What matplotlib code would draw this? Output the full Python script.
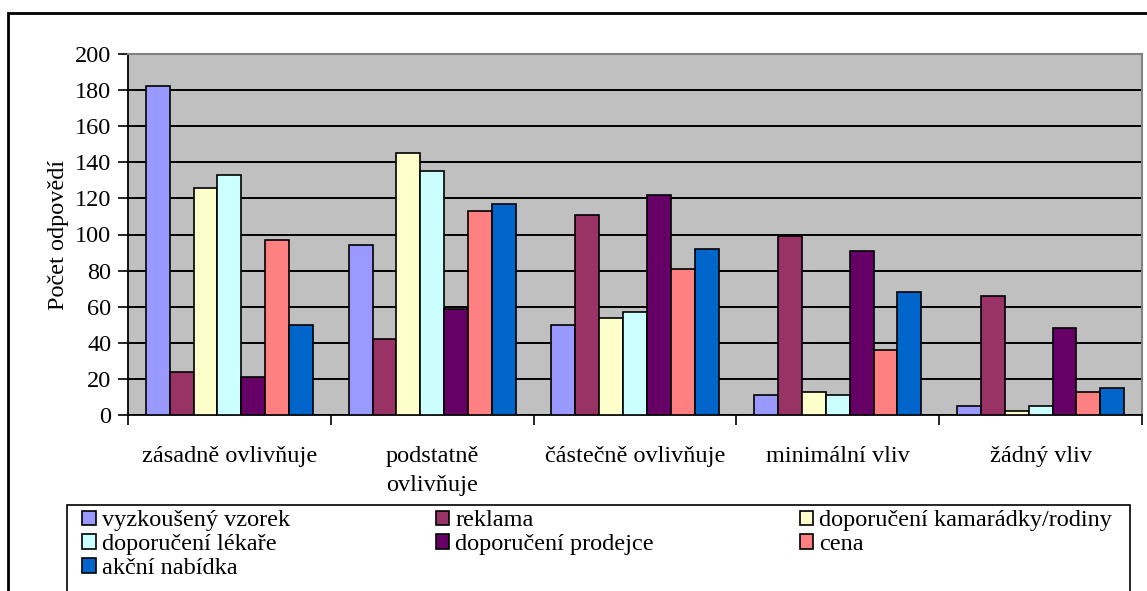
import numpy as np
import matplotlib.pyplot as plt
from matplotlib.patches import Rectangle

plt.rcParams['font.family'] = ['Liberation Serif', 'DejaVu Serif']

categories = ['zásadně ovlivňuje', 'podstatně\novlivňuje', 'částečně ovlivňuje',
              'minimální vliv', 'žádný vliv']
series = ['vyzkoušený vzorek', 'reklama', 'doporučení kamarádky/rodiny',
          'doporučení lékaře', 'doporučení prodejce', 'cena', 'akční nabídka']
colors = ['#9999FF', '#993366', '#FFFFCC', '#CCFFFF', '#660066', '#FF8080', '#0066CC']

vyzkouseny = [182, 94, 50, 11, 5]
reklama = [24, 42, 111, 99, 66]
kamaradky = [126, 145, 54, 13, 2]
lekare = [133, 135, 57, 11, 5]
prodejce = [21, 59, 122, 91, 48]
cena = [97, 113, 81, 36, 13]
akcni = [50, 117, 92, 68, 15]
values = [vyzkouseny, reklama, kamaradky, lekare, prodejce, cena, akcni]

fs = 17.5

fig = plt.figure(figsize=(11.47, 5.91), dpi=100)
W, H = 1147, 591
ax = fig.add_axes([128 / W, (H - 415) / H, (1142 - 128) / W, 361 / H])
ax.set_facecolor('#C0C0C0')

x = np.arange(len(categories))
n = len(series)
bw = 1 / (n + 1.5)
handles = []
for i, (vals, col) in enumerate(zip(values, colors)):
    b = ax.bar(x + (i - (n - 1) / 2) * bw, vals, bw, color=col,
               edgecolor='black', linewidth=1.2, zorder=3, label=series[i])
    handles.append(b)

ax.set_ylim(0, 200)
ax.set_xlim(-0.5, len(categories) - 0.5)
ax.set_yticks(range(0, 201, 20))
ax.yaxis.grid(True, color='black', linewidth=1.4)
ax.set_axisbelow(True)
ax.tick_params(axis='y', direction='out', length=7, width=1.2, pad=5, labelsize=fs)

# boundaries get tick marks, centres get the labels
ax.set_xticks(np.arange(-0.5, len(categories)))
ax.set_xticklabels([])
ax.set_xticks(x, minor=True)
ax.set_xticklabels(categories, minor=True, fontsize=fs, linespacing=1.5)
ax.tick_params(axis='x', which='minor', length=0, pad=22)
ax.tick_params(axis='x', which='major', direction='out', length=7, width=1.2)

for side in ['top', 'right']:
    ax.spines[side].set_color('#808080')
    ax.spines[side].set_linewidth(1.5)
for side in ['left', 'bottom']:
    ax.spines[side].set_linewidth(1.3)

ax.set_ylabel('Počet odpovědí', fontsize=fs, labelpad=4)

# outer chart border and legend box
fig.patches.append(Rectangle((8 / W, -0.1), 1.1, (H - 13) / H + 0.1, transform=fig.transFigure,
                             fill=False, edgecolor='black', linewidth=2))
fig.patches.append(Rectangle((67 / W, -0.1), (1130 - 67) / W, (H - 505) / H + 0.1,
                             transform=fig.transFigure, fill=False,
                             edgecolor='black', linewidth=1.2))

order = [0, 3, 6, 1, 4, 2, 5]
leg = fig.legend([handles[i] for i in order], [series[i] for i in order],
                 ncol=3, loc='upper left', bbox_to_anchor=(80 / W, (H - 508) / H),
                 frameon=False, fontsize=fs, handlelength=0.55, handleheight=0.55,
                 handletextpad=0.25, labelspacing=0.12, columnspacing=6.0,
                 borderaxespad=0, borderpad=0.1)

fig.savefig('out.png', dpi=100)
